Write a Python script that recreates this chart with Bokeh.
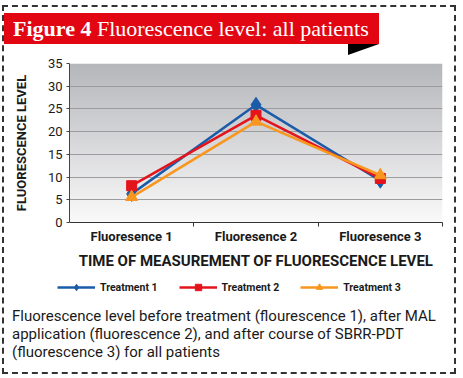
import numpy as np
from bokeh.plotting import figure
from bokeh.layouts import column
from bokeh.models import (Range1d, FixedTicker, Legend, LegendItem, ColumnDataSource, Div)
from bokeh.embed import file_html
from bokeh.resources import INLINE

# ---- data ----
categories = ["Fluoresence 1", "Fluoresence 2", "Fluoresence 3"]
treatment_1 = [6.3, 25.9, 9.2]
treatment_2 = [8.1, 23.6, 9.7]
treatment_3 = [5.6, 22.2, 10.4]
series_names = ["Treatment 1", "Treatment 2", "Treatment 3"]
y_ticks = [0, 5, 10, 15, 20, 25, 30, 35]

title_bold = "Figure 4"
title_rest = "Fluorescence level: all patients"
caption_lines = [
    "Fluorescence level before treatment (flourescence 1), after MAL",
    "application (fluorescence 2), and after course of SBRR-PDT",
    "(fluorescence 3) for all patients",
]

# ---- layout (pixels) ----
CW = 450          # content width inside dashed border
BANNER_H = 48
LEG_H = 28
CAP_H = 69

banner = Div(width=CW, height=BANNER_H, styles={"margin": "0", "padding": "0"},
             text=(
                 '<div style="position:relative;width:%dpx;height:%dpx;margin:0;padding:0;">'
                 '<div style="position:absolute;left:0px;top:6px;width:375px;height:31px;'
                 'background:#e20613;"></div>'
                 '<div style="position:absolute;left:344px;top:37px;width:0;height:0;'
                 'border-top:11px solid #000;border-right:31px solid transparent;"></div>'
                 '<div style="position:absolute;left:9px;top:6px;height:31px;line-height:31px;'
                 'white-space:nowrap;color:#fff;font-family:\'Liberation Serif\';font-size:22px;">'
                 '<b>%s</b> %s</div></div>'
             ) % (CW, BANNER_H, title_bold, title_rest))

p = figure(frame_width=373, frame_height=159, output_backend="svg", toolbar_location=None,
           x_range=Range1d(0, len(categories)), y_range=Range1d(0, 35),
           min_border_left=65, min_border_right=12,
           min_border_top=8, min_border_bottom=53)
p.outline_line_color = None
p.background_fill_color = "white"
p.border_fill_color = "white"

# gradient background of the plot area
n = 160
top = np.array([182, 183, 187], dtype=float)
bot = np.array([250, 250, 250], dtype=float)
t = np.linspace(0, 1, n)[:, None]
cols = (bot * (1 - t) + top * t).astype(np.uint8)
img = np.zeros((n, 1), dtype=np.uint32)
view = img.view(dtype=np.uint8).reshape((n, 1, 4))
view[:, 0, 0] = cols[:, 0]
view[:, 0, 1] = cols[:, 1]
view[:, 0, 2] = cols[:, 2]
view[:, 0, 3] = 255
p.image_rgba(image=[img], x=0, y=0, dw=len(categories), dh=35, level="image")

# grid
p.xgrid.visible = False
p.ygrid.ticker = FixedTicker(ticks=y_ticks)
p.ygrid.grid_line_color = "#9c9ca0"
p.ygrid.grid_line_width = 1
p.ygrid.level = "underlay"

# axes
xs = [i + 0.5 for i in range(len(categories))]
xa = p.xaxis[0]
xa.ticker = FixedTicker(ticks=xs, minor_ticks=[1, 2, 3])
xa.major_label_overrides = {x: c for x, c in zip(xs, categories)}
xa.major_tick_line_color = None
xa.major_tick_out = 0
xa.minor_tick_out = 4
xa.minor_tick_in = 0
xa.minor_tick_line_color = "#333333"
xa.axis_line_color = "#333333"
xa.major_label_text_font = "Roboto"
xa.major_label_text_font_style = "bold"
xa.major_label_text_font_size = "13px"
xa.major_label_text_color = "#1a1a1a"
xa.major_label_standoff = 2
xa.axis_label = "TIME OF MEASUREMENT OF FLUORESCENCE LEVEL"
xa.axis_label_text_font = "Roboto"
xa.axis_label_text_font_style = "bold"
xa.axis_label_text_font_size = "15px"
xa.axis_label_text_color = "#1a1a1a"
xa.axis_label_standoff = 5

ya = p.yaxis[0]
ya.ticker = FixedTicker(ticks=y_ticks)
ya.minor_tick_line_color = None
ya.major_tick_out = 3
ya.major_tick_in = 0
ya.major_tick_line_color = "#444444"
ya.axis_line_color = "#444444"
ya.major_label_text_font = "Roboto"
ya.major_label_text_font_size = "13px"
ya.major_label_text_color = "#1a1a1a"
ya.major_label_standoff = 4
ya.axis_label = "FLUORESCENCE LEVEL"
ya.axis_label_text_font = "Roboto"
ya.axis_label_text_font_style = "bold"
ya.axis_label_text_font_size = "13px"
ya.axis_label_text_color = "#1a1a1a"
ya.axis_label_standoff = 16

# series
colors = ["#1b5ca8", "#e3141c", "#f8961e"]
markers = ["diamond", "square", "triangle"]
sizes = [15, 10, 12]
for name, vals, c, m, s in zip(series_names, [treatment_1, treatment_2, treatment_3],
                               colors, markers, sizes):
    src = ColumnDataSource(dict(x=xs, y=vals))
    p.line("x", "y", source=src, line_color=c, line_width=2.5)
    p.scatter("x", "y", source=src, marker=m, size=s, fill_color=c, line_color=c)

# legend strip (its own small figure; key glyphs only, no data drawn)
pl = figure(width=CW, height=LEG_H, output_backend="svg", toolbar_location=None,
            x_range=Range1d(0, 1), y_range=Range1d(0, 1),
            x_axis_location=None, y_axis_location=None,
            min_border=0, min_border_left=0, min_border_right=0,
            min_border_top=0, min_border_bottom=0)
legend_x = 0
try:
    pl.frame_align = False
    legend_x = 53
except Exception:
    legend_x = 0
pl.grid.visible = False
pl.outline_line_color = None
pl.background_fill_color = "white"
pl.border_fill_color = "white"
items = []
for name, c, m, s in zip(series_names, colors, markers, sizes):
    key_src = ColumnDataSource(dict(x=[np.nan], y=[np.nan]))
    r1 = pl.line("x", "y", source=key_src, line_color=c, line_width=2.5)
    r2 = pl.scatter("x", "y", source=key_src, marker=m, size=s, fill_color=c, line_color=c)
    items.append(LegendItem(label=name, renderers=[r1, r2]))
legend = Legend(items=items, orientation="horizontal", location=(legend_x, 8),
                glyph_width=38, glyph_height=16, label_standoff=5, spacing=21,
                padding=0, margin=0, border_line_color=None, background_fill_alpha=0,
                label_text_font="Roboto", label_text_font_style="bold",
                label_text_font_size="10.5px", label_text_color="#1a1a1a")
pl.add_layout(legend, "center")

caption = Div(width=CW, height=CAP_H, styles={"margin": "0", "padding": "0"},
              text=('<div style="padding:4px 0 0 8px;margin:0;font-family:Roboto;'
                    'font-size:15px;line-height:18px;color:#1a1a1a;">%s</div>'
                    % "<br>".join(caption_lines)))

layout = column(banner, p, pl, caption, spacing=0,
                styles={"border": "2px dashed #333", "margin": "5px 0 0 2px",
                        "background": "white"})

open("out.html", "w").write(file_html(layout, INLINE))
